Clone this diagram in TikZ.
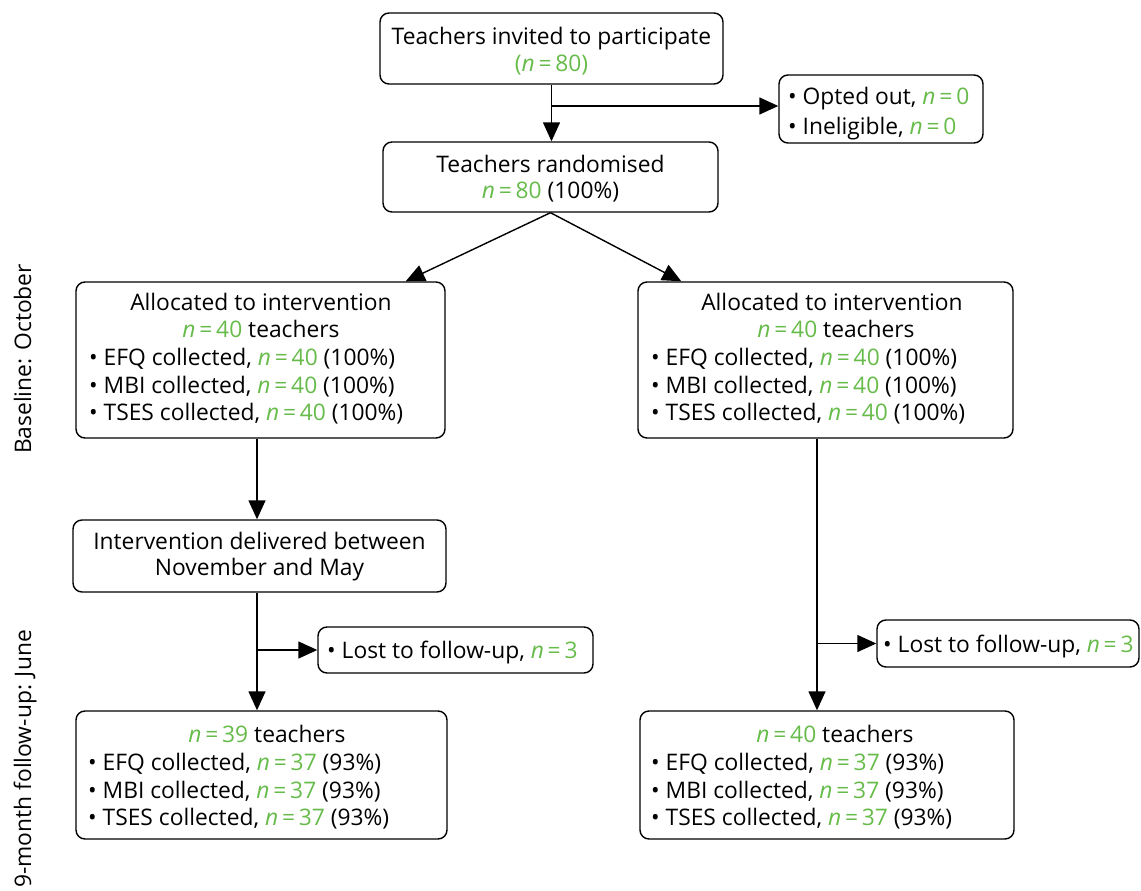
\documentclass[tikz,border=0pt]{standalone}
\usepackage{fontspec}
\setmainfont{Open Sans}
\usetikzlibrary{arrows.meta}
\definecolor{ngreen}{RGB}{102,187,74}
\newcommand{\nn}[1]{{\color{ngreen}\textit{n}\,=\,#1}}
\begin{document}
\begin{tikzpicture}[x=1pt,y=-1pt,
  box/.style={draw, line width=1.4pt, rounded corners=9pt, inner sep=0pt},
  txt/.style={inner sep=0pt, font=\fontsize{22.8}{27}\selectfont},
  ctxt/.style={txt, anchor=base},
  ltxt/.style={txt, anchor=base west},
  arr/.style={line width=1.4pt, -{Triangle[length=19pt,width=17pt]}},
  side/.style={txt, rotate=90, anchor=base}]
\useasboundingbox (0,0) rectangle (1141,891);
\clip (0,0) rectangle (1141,891);
% boxes
\node[box, minimum width=343pt, minimum height=71pt] (top) at (551.5,48.5) {};
\node[box, minimum width=204pt, minimum height=68pt] (opt) at (881,109) {};
\node[box, minimum width=335pt, minimum height=70pt] (rand) at (550.5,177) {};
\node[box, minimum width=369pt, minimum height=156pt] (allocL) at (260.5,360) {};
\node[box, minimum width=375pt, minimum height=156pt] (allocR) at (825.5,360) {};
\node[box, minimum width=373pt, minimum height=72pt] (interv) at (259.5,556) {};
\node[box, minimum width=275pt, minimum height=46pt] (lostL) at (455.5,650) {};
\node[box, minimum width=262pt, minimum height=47pt] (lostR) at (1008,643.5) {};
\node[box, minimum width=371pt, minimum height=128pt] (botL) at (261.5,775) {};
\node[box, minimum width=374pt, minimum height=128pt] (botR) at (827,775) {};
% texts
\node[ctxt] (t1) at (551.5,45) {Teachers invited to participate};
\node[ctxt] (t2) at (551.5,72) {\color{ngreen}(\textit{n}\,=\,80)};
\node[ltxt] (o1) at (788,104) {\textbullet\ Opted out, \nn{0}};
\node[ltxt] (o2) at (788,134) {\textbullet\ Ineligible, \nn{0}};
\node[ctxt] (r1) at (550.5,172) {Teachers randomised};
\node[ctxt] (r2) at (550.5,198) {\nn{80} (100\%)};
\node[ctxt] (aL1) at (261,310) {Allocated to intervention};
\node[ctxt] (aL2) at (261,337) {\nn{40} teachers};
\node[ltxt] (aL3) at (89,365) {\textbullet\ EFQ collected, \nn{40} (100\%)};
\node[ltxt] (aL4) at (89,393) {\textbullet\ MBI collected, \nn{40} (100\%)};
\node[ltxt] (aL5) at (89,420) {\textbullet\ TSES collected, \nn{40} (100\%)};
\node[ctxt] (aR1) at (832,310) {Allocated to intervention};
\node[ctxt] (aR2) at (836,337) {\nn{40} teachers};
\node[ltxt] (aR3) at (651,365) {\textbullet\ EFQ collected, \nn{40} (100\%)};
\node[ltxt] (aR4) at (651,393) {\textbullet\ MBI collected, \nn{40} (100\%)};
\node[ltxt] (aR5) at (651,420) {\textbullet\ TSES collected, \nn{40} (100\%)};
\node[ctxt] (i1) at (259.5,549) {Intervention delivered between};
\node[ctxt] (i2) at (259.5,575) {November and May};
\node[ltxt] (lL) at (327,658) {\textbullet\ Lost to follow-up, \nn{3}};
\node[ltxt] (lR) at (883,652) {\textbullet\ Lost to follow-up, \nn{3}};
\node[ctxt] (bL1) at (267,742) {\nn{39} teachers};
\node[ltxt] (bL2) at (88,770) {\textbullet\ EFQ collected, \nn{37} (93\%)};
\node[ltxt] (bL3) at (88,798) {\textbullet\ MBI collected, \nn{37} (93\%)};
\node[ltxt] (bL4) at (88,825) {\textbullet\ TSES collected, \nn{37} (93\%)};
\node[ctxt] (bR1) at (835,742) {\nn{40} teachers};
\node[ltxt] (bR2) at (651,770) {\textbullet\ EFQ collected, \nn{37} (93\%)};
\node[ltxt] (bR3) at (651,798) {\textbullet\ MBI collected, \nn{37} (93\%)};
\node[ltxt] (bR4) at (651,825) {\textbullet\ TSES collected, \nn{37} (93\%)};
% side labels
\node[side] (s1) at (31,359) {Baseline: October};
\node[side, anchor=base east] (s2) at (31,630) {9-month follow-up: June};
% connectors
\coordinate (xL) at (257,0);
\coordinate (xR) at (817,0);
\coordinate (j1) at (551.5,106);
\draw[arr] (top.south) -- (top.south |- rand.north);
\draw[arr] (j1) -- (j1 -| opt.west);
\draw[arr] (rand.south) -- ([xshift=-40pt]allocL.north east);
\draw[arr] (rand.south) -- ([xshift=44pt]allocR.north west);
\draw[arr] (allocL.south -| xL) -- (interv.north -| xL);
\draw[arr] (interv.south -| xL) -- (botL.north -| xL);
\draw[arr] (lostL.west -| xL) -- (lostL.west);
\draw[arr] (allocR.south -| xR) -- (botR.north -| xR);
\draw[arr] (lostR.west -| xR) -- (lostR.west);
\end{tikzpicture}
\end{document}
